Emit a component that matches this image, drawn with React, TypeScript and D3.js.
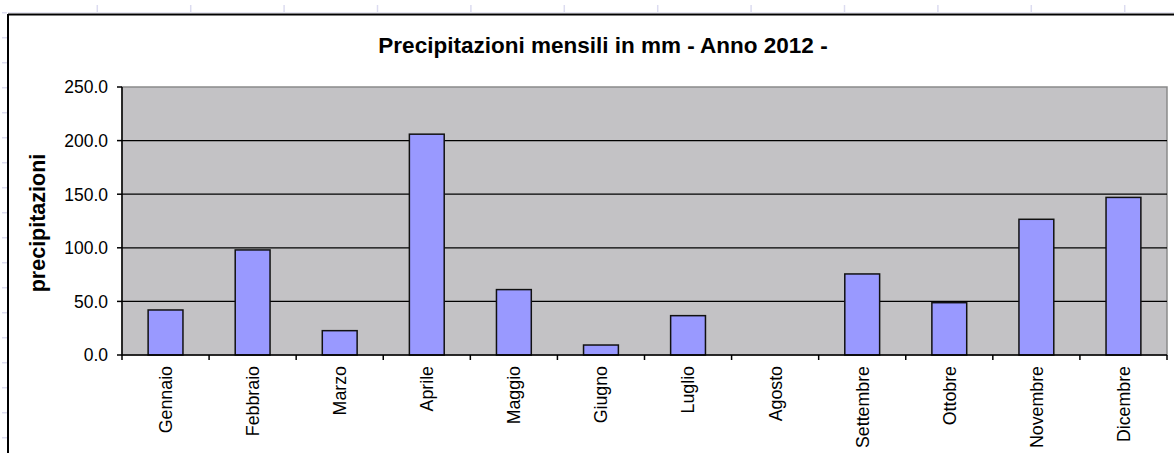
import React from "react";
import * as d3 from "d3";

const months = ["Gennaio","Febbraio","Marzo","Aprile","Maggio","Giugno","Luglio","Agosto","Settembre","Ottobre","Novembre","Dicembre"];
const rain = [42, 98, 22.7, 206, 61, 9.3, 36.7, 0, 75.6, 48.8, 126.6, 147];
const yTicks = [0, 50, 100, 150, 200, 250];
const title = "Precipitazioni mensili in mm - Anno 2012 -";
const yTitle = "precipitazioni";

const W = 1174, H = 453;
const left = 122, right = 1167, top = 87, bottom = 355;
const FONT = "'Liberation Sans', Arial, sans-serif";

export default function App() {
  const x = d3.scaleBand<string>().domain(months).range([left, right]).paddingInner(0.6).paddingOuter(0.3);
  const xb = d3.scaleBand<string>().domain(months).range([left, right]);
  const y = d3.scaleLinear().domain([0, 250]).range([bottom, top]);
  const colTicks = d3.range(0, 13).map(i => left + i * xb.step());
  const gridCols = d3.range(0, 13).map(i => 97.3 + i * 93.4);
  const gridRows = d3.range(0, 19).map(i => 12.7 + i * 25);

  return (
    <svg width={W} height={H} style={{ position: "absolute", left: 0, top: 0, background: "#fff" }} fontFamily={FONT}>
      {gridCols.map((gx, i) => (
        <line key={"gc" + i} x1={gx} x2={gx} y1={5} y2={12} stroke="#dcdcf0" strokeWidth={1.5} />
      ))}
      {gridRows.map((gy, i) => (
        <line key={"gr" + i} x1={2} x2={7} y1={gy} y2={gy} stroke="#dcdcf0" strokeWidth={1.5} />
      ))}
      <line x1={8} x2={W} y1={12.5} y2={12.5} stroke="#e4e4f2" strokeWidth={1} />
      <line x1={8} x2={W} y1={14.5} y2={14.5} stroke="#000" strokeWidth={2} />
      <line x1={8} x2={8} y1={14} y2={H} stroke="#000" strokeWidth={2} />

      <rect x={left} y={top} width={right - left} height={bottom - top} fill="#c3c2c5" stroke="#8a8a8a" strokeWidth={1.5} />
      {yTicks.filter(t => t > 0 && t < 250).map(t => (
        <line key={"g" + t} x1={left} x2={right} y1={y(t)} y2={y(t)} stroke="#000" strokeWidth={1.2} />
      ))}
      {months.map((m, i) => (
        <rect key={m} x={x(m)} y={y(rain[i])} width={x.bandwidth()} height={bottom - y(rain[i])} fill="#9999ff" stroke="#111" strokeWidth={1.5} />
      ))}
      <line x1={left} x2={left} y1={top} y2={bottom} stroke="#000" strokeWidth={1.5} />
      <line x1={left} x2={right} y1={bottom} y2={bottom} stroke="#000" strokeWidth={1.5} />
      {yTicks.map(t => (
        <g key={"yt" + t}>
          <line x1={left - 5} x2={left} y1={y(t)} y2={y(t)} stroke="#000" strokeWidth={1.5} />
          <text x={left - 14} y={y(t)} dy="0.36em" textAnchor="end" fontSize={17.5} fill="#000">{d3.format(".1f")(t)}</text>
        </g>
      ))}
      {colTicks.map((cx, i) => (
        <line key={"xt" + i} x1={cx} x2={cx} y1={bottom} y2={bottom + 5} stroke="#000" strokeWidth={1.5} />
      ))}
      {months.map(m => {
        const cx = (xb(m) as number) + xb.bandwidth() / 2;
        return (
          <text key={"l" + m} transform={`translate(${cx},366) rotate(-90)`} dy="0.36em" textAnchor="end" fontSize={17.8} fill="#000">{m}</text>
        );
      })}
      <text x={603} y={53} textAnchor="middle" fontSize={22.5} fontWeight="bold" fill="#000">{title}</text>
      <text transform={`translate(37,223) rotate(-90)`} dy="0.36em" textAnchor="middle" fontSize={21.5} fontWeight="bold" fill="#000">{yTitle}</text>
    </svg>
  );
}
